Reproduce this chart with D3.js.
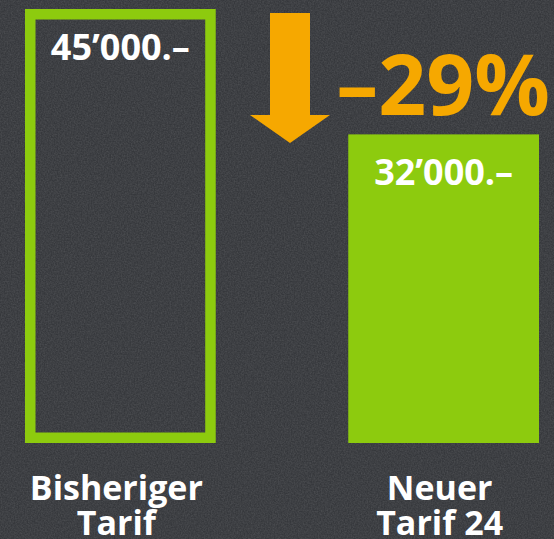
<!DOCTYPE html>
<html>
<head>
<meta charset="utf-8">
<script src="https://cdn.jsdelivr.net/npm/d3@7"></script>
<style>
  html, body { margin: 0; padding: 0; background: #3a3c40; }
  svg { display: block; }
  text { font-family: "Open Sans", "Noto Sans", sans-serif; font-weight: 700; }
</style>
</head>
<body>
<div id="vis-container"></div>
<script>
let width = 554;
let height = 539;

// chart data
let categories = ["Bisheriger Tarif", "Neuer Tarif 24"];
let label_lines = [["Bisheriger", "Tarif"], ["Neuer", "Tarif 24"]];
let values = [45000, 32000];
let value_labels = ["45’000.–", "32’000.–"];
let change_label = "–29%";

let green = "#8dcb0e";
let orange = "#f6a800";

let svg = d3.select("#vis-container").append("svg")
    .attr("width", width)
    .attr("height", height);

// chalkboard texture
let defs = svg.append("defs");
let filter = defs.append("filter").attr("id", "chalk")
    .attr("x", 0).attr("y", 0).attr("width", "100%").attr("height", "100%");
filter.append("feTurbulence")
    .attr("type", "fractalNoise")
    .attr("baseFrequency", 0.7)
    .attr("numOctaves", 3)
    .attr("seed", 3);
filter.append("feColorMatrix")
    .attr("type", "matrix")
    .attr("values", "0 0 0 0 1  0 0 0 0 1  0 0 0 0 1  0.16 0 0 0 -0.04");

svg.append("rect")
    .attr("width", width)
    .attr("height", height)
    .attr("fill", "#36383c");
svg.append("rect")
    .attr("width", width)
    .attr("height", height)
    .attr("filter", "url(#chalk)");

let x = d3.scaleBand()
    .domain(categories)
    .range([25, 539])
    .paddingInner(0.41)
    .paddingOuter(0);

let y = d3.scaleLinear()
    .domain([0, 45000])
    .range([443, 9]);

let sw = 10.5;

// old tariff: outlined bar
svg.append("rect")
    .attr("x", x(categories[0]) + sw / 2)
    .attr("y", y(values[0]) + sw / 2)
    .attr("width", x.bandwidth() - sw)
    .attr("height", y(0) - y(values[0]) - sw)
    .attr("fill", "none")
    .attr("stroke", green)
    .attr("stroke-width", sw);

// new tariff: filled bar
svg.append("rect")
    .attr("x", x(categories[1]))
    .attr("y", y(values[1]))
    .attr("width", x.bandwidth())
    .attr("height", y(0) - y(values[1]))
    .attr("fill", green);

// value labels inside the bars
svg.selectAll("text.value")
    .data(values)
    .enter().append("text")
      .attr("class", "value")
      .attr("x", (d, i) => x(categories[i]) + x.bandwidth() / 2)
      .attr("y", d => y(d) + 51)
      .attr("text-anchor", "middle")
      .attr("fill", "#ffffff")
      .style("font-size", "36px")
      .text((d, i) => value_labels[i]);

// category labels below
let cat = svg.selectAll("text.cat")
    .data(categories)
    .enter().append("text")
      .attr("class", "cat")
      .attr("text-anchor", "middle")
      .attr("fill", "#ffffff")
      .style("font-size", "34px");
cat.selectAll("tspan")
    .data((d, i) => label_lines[i].map(t => ({ t: t, c: d })))
    .enter().append("tspan")
      .attr("x", d => x(d.c) + x.bandwidth() / 2 - 4)
      .attr("y", (d, j) => 500 + j * 35)
      .text(d => d.t);

// down arrow between bars
let ax = 290;
let arrow = d3.path();
arrow.moveTo(ax - 20, 13);
arrow.lineTo(ax + 20, 13);
arrow.lineTo(ax + 20, 115);
arrow.lineTo(ax + 40, 115);
arrow.lineTo(ax, 143);
arrow.lineTo(ax - 40, 115);
arrow.lineTo(ax - 20, 115);
arrow.closePath();
svg.append("path")
    .attr("d", arrow.toString())
    .attr("fill", orange);

svg.append("text")
    .attr("x", 550)
    .attr("y", 115)
    .attr("text-anchor", "end")
    .attr("fill", orange)
    .style("font-size", "84px")
    .text(change_label);
</script>
</body>
</html>
